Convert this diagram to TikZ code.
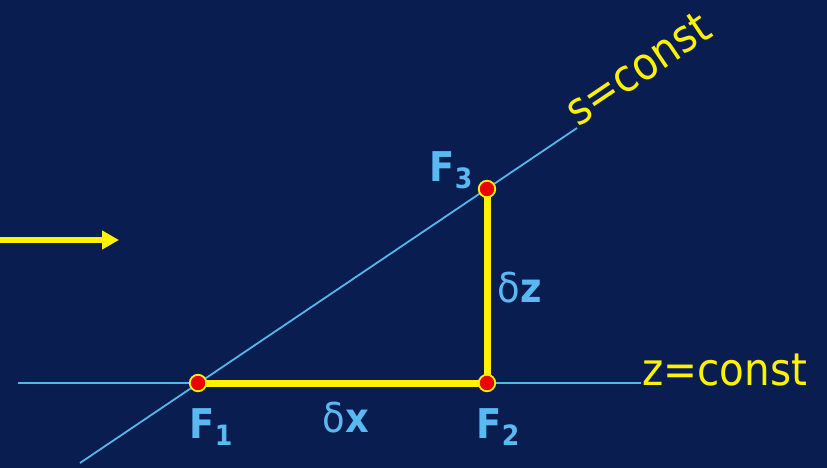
\documentclass[tikz,border=0pt]{standalone}
\usepackage{fontspec}
\setmainfont{DejaVu Sans Condensed}
\usetikzlibrary{arrows.meta,positioning}
\definecolor{bgblue}{RGB}{9,29,80}
\definecolor{lineblue}{RGB}{85,182,236}
\definecolor{lblblue}{RGB}{90,185,240}
\definecolor{ptred}{RGB}{235,0,0}
\newcommand{\fsub}[1]{F\raisebox{-0.32ex}{\fontsize{28}{28}\selectfont #1}}

\begin{document}
\begin{tikzpicture}[x=1pt,y=-1pt,
  ax/.style={draw=lineblue,line width=1.8pt},
  leg/.style={draw=yellow,line width=7pt},
  pt/.style={circle,fill=ptred,draw=yellow,line width=1.8pt,inner sep=0pt,minimum size=16.5pt},
  lbl/.style={text=lblblue,font=\fontsize{41}{41}\selectfont\bfseries},
  cst/.style={text=yellow,inner sep=1pt,font=\fontsize{45}{45}\selectfont}]
\useasboundingbox (0,0) rectangle (827,468);
\clip (0,0) rectangle (827,468);
\fill[bgblue] (0,0) rectangle (827,468);
% axes
\coordinate (zl) at (18,383);
\coordinate (zr) at (641,383);
\coordinate (sl) at (80,463);
\coordinate (sr) at (577,128);
\draw[ax] (zl) -- (zr);
\draw[ax] (sl) -- (sr);
\node[cst,anchor=mid west] (zc) at (zr) {z=const};
\node[cst,anchor=base west,rotate=34] (sc) at (sr) {s=const};
% points
\coordinate (p1) at (198,383);
\coordinate (p2) at (487,383);
\coordinate (p3) at (487,189);
\draw[leg,line join=miter] (p1) -- (p2) -- (p3);
\node[pt] (f1) at (p1) {};
\node[pt] (f2) at (p2) {};
\node[pt] (f3) at (p3) {};
% labels
\node[lbl] (l1) at (211,427) {\fsub{1}};
\node[lbl] (l2) at (498,427) {\fsub{2}};
\node[lbl] (l3) at (451,170) {\fsub{3}};
\node[lbl] (dx) at (346,418) {{\mdseries δ}x};
\node[lbl] (dz) at (520,288) {{\mdseries δ}z};
% incoming
\coordinate (ain) at (0,240);
\coordinate (aout) at (119,240);
\draw[yellow,line width=6pt,-{Triangle[length=17pt,width=18pt]}] (ain) -- (aout);
\end{tikzpicture}
\end{document}
